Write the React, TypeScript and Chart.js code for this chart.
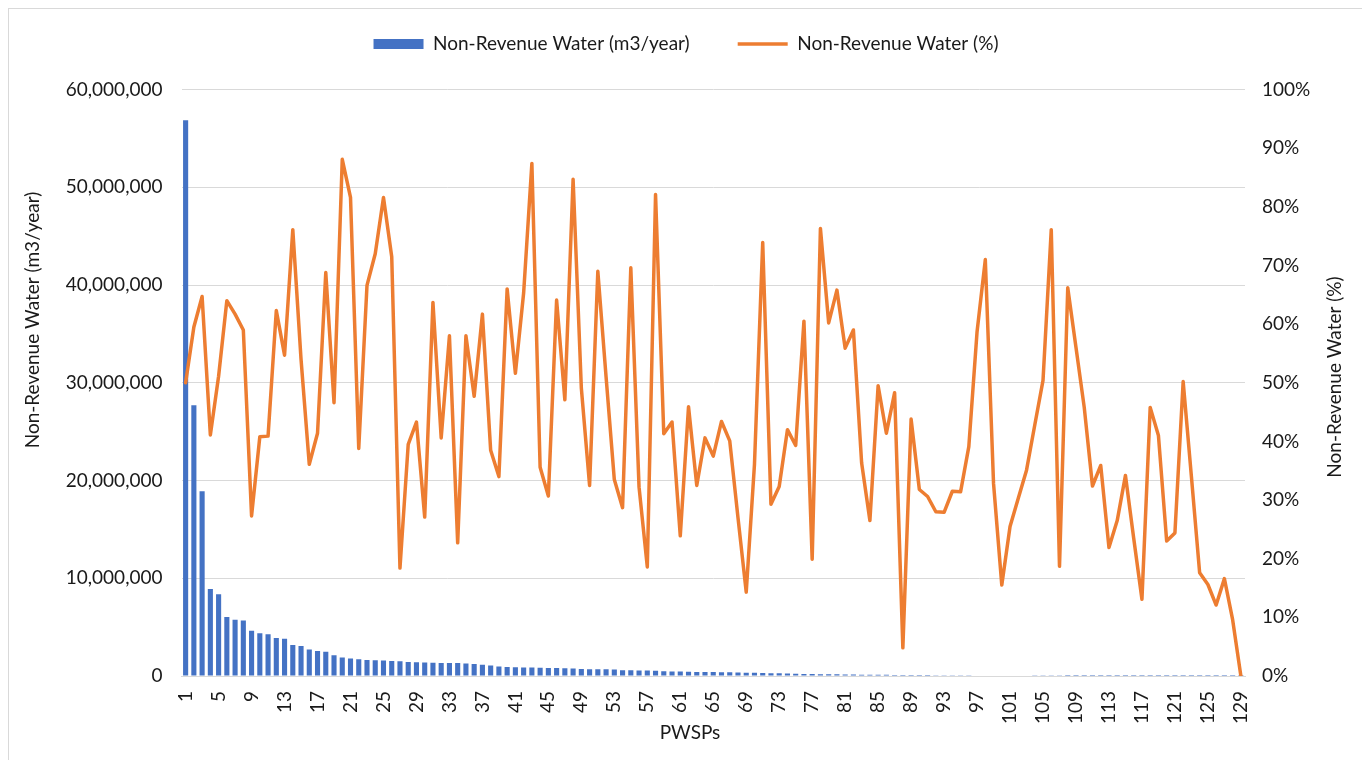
import React, { useEffect, useRef } from 'react';
import { Chart, registerables, layouts } from 'chart.js';

Chart.register(...registerables);

// ---------- data ----------
const categories: string[] = Array.from({ length: 129 }, (_, i) => String(i + 1));

const nrwVolume: number[] = [
  56850000, 27700000, 18900000, 8900000, 8360000, 6030000, 5750000, 5680000, 4620000, 4380000,
  4280000, 3900000, 3800000, 3180000, 3080000, 2700000, 2570000, 2470000, 2120000, 1880000,
  1780000, 1710000, 1640000, 1610000, 1580000, 1540000, 1510000, 1440000, 1400000, 1370000,
  1360000, 1340000, 1330000, 1320000, 1280000, 1230000, 1150000, 1070000, 980000, 920000,
  890000, 880000, 860000, 850000, 820000, 810000, 790000, 770000, 720000, 700000,
  690000, 680000, 660000, 600000, 580000, 560000, 550000, 530000, 490000, 470000,
  450000, 430000, 420000, 410000, 400000, 390000, 380000, 370000, 340000, 320000,
  310000, 290000, 270000, 250000, 230000, 210000, 200000, 190000, 180000, 170000,
  160000, 150000, 140000, 135000, 130000, 120000, 115000, 110000, 100000, 95000,
  90000, 85000, 80000, 75000, 70000, 65000, 60000, 57000, 54000, 50000,
  47000, 44000, 40000, 37000, 34000, 30000, 27000, 4000, 3500, 3200,
  3000, 2800, 2600, 2400, 2200, 2000, 1800, 1600, 1500, 1400,
  1300, 1200, 1100, 1000, 900, 800, 700, 600, 500,
];

const nrwPercent: number[] = [
  50.0, 59.5, 64.7, 41.1, 51.1, 64.0, 61.7, 59.0, 27.3, 40.8,
  40.9, 62.3, 54.7, 76.1, 54.0, 36.1, 41.4, 68.8, 46.6, 88.1,
  81.6, 38.8, 66.6, 72.0, 81.6, 71.5, 18.4, 39.5, 43.3, 27.1,
  63.7, 40.6, 58.0, 22.7, 58.0, 47.7, 61.7, 38.5, 34.0, 66.0,
  51.6, 65.3, 87.4, 35.6, 30.7, 64.1, 47.1, 84.7, 49.1, 32.5,
  69.0, 51.0, 33.5, 28.7, 69.6, 32.2, 18.6, 82.1, 41.3, 43.3,
  23.9, 45.9, 32.5, 40.6, 37.5, 43.4, 40.1, 27.0, 14.3, 36.1,
  73.9, 29.3, 32.3, 42.0, 39.3, 60.5, 19.9, 76.3, 60.2, 65.8,
  55.9, 59.0, 36.3, 26.5, 49.5, 41.4, 48.3, 4.8, 43.8, 31.8,
  30.6, 28.0, 27.9, 31.5, 31.4, 39.1, 58.7, 71.0, 32.8, 15.5,
  25.5, 30.3, 35.1, 42.8, 50.4, 76.1, 18.7, 66.2, 56.0, 45.8,
  32.4, 35.9, 21.9, 26.5, 34.2, 23.5, 13.1, 45.8, 41.0, 23.0,
  24.4, 50.2, 34.0, 17.6, 15.6, 12.1, 16.6, 9.6, 0.0,
];

const seriesNames: string[] = ['Non-Revenue Water (m3/year)', 'Non-Revenue Water (%)'];
const axisTitles = { left: 'Non-Revenue Water (m3/year)', right: 'Non-Revenue Water (%)', x: 'PWSPs' };

// ---------- style ----------
const FONT = 'Lato, "Liberation Sans", sans-serif';
const FS = 19;
const TEXT = '#1a1a1a';
const GRID = '#d9d9d9';
const BLUE = '#4472C4';
const ORANGE = '#ED7D31';

// empty layout box between the legend and the plot area
const spacerPlugin = {
  id: 'topSpacer',
  beforeInit(chart: any) {
    const box: any = {
      position: 'top',
      weight: 500,
      fullSize: true,
      options: { stackWeight: 1 },
      left: 0, top: 0, right: 0, bottom: 0, width: 0, height: 0,
      isHorizontal() { return true; },
      update(maxWidth: number) { box.width = maxWidth; box.height = 26; },
      getPadding() { return { left: 0, right: 0, top: 0, bottom: 0 }; },
      draw() {},
    };
    layouts.addBox(chart, box);
  },
};

const axisTitlePlugin = {
  id: 'axisTitles',
  afterDraw(chart: any) {
    const { ctx } = chart;
    const y = chart.scales.y;
    const y1 = chart.scales.y1;
    const x = chart.scales.x;
    ctx.save();
    ctx.font = `${FS}px ${FONT}`;
    ctx.fillStyle = TEXT;
    ctx.textAlign = 'center';
    ctx.textBaseline = 'middle';
    ctx.save();
    ctx.translate(y.left + 24, 311);
    ctx.rotate(-Math.PI / 2);
    ctx.fillText(axisTitles.left, 0, 0);
    ctx.restore();
    ctx.save();
    ctx.translate(y1.right - 28, 368);
    ctx.rotate(-Math.PI / 2);
    ctx.fillText(axisTitles.right, 0, 0);
    ctx.restore();
    ctx.fillText(axisTitles.x, 681, x.bottom - 27);
    ctx.restore();
  },
};

export default function App() {
  const ref = useRef<HTMLCanvasElement | null>(null);

  useEffect(() => {
    if (!ref.current) return;
    const chart = new Chart(ref.current, {
      type: 'bar',
      data: {
        labels: categories,
        datasets: [
          {
            type: 'bar',
            label: seriesNames[0],
            data: nrwVolume,
            backgroundColor: BLUE,
            borderWidth: 0,
            barPercentage: 0.62,
            categoryPercentage: 1,
            yAxisID: 'y',
            order: 2,
            pointStyle: 'rect',
          } as any,
          {
            type: 'line',
            label: seriesNames[1],
            data: nrwPercent,
            borderColor: ORANGE,
            backgroundColor: ORANGE,
            borderWidth: 3.5,
            pointRadius: 0,
            pointHoverRadius: 0,
            tension: 0,
            borderJoinStyle: 'round',
            borderCapStyle: 'round',
            yAxisID: 'y1',
            order: 1,
            pointStyle: 'line',
          } as any,
        ],
      },
      options: {
        responsive: false,
        animation: false,
        layout: { padding: { top: -22.5, left: 0, right: 0, bottom: 0 } },
        plugins: {
          tooltip: { enabled: false },
          legend: {
            position: 'top',
            labels: {
              usePointStyle: true,
              pointStyleWidth: 50,
              boxHeight: 10,
              padding: 48,
              color: TEXT,
              font: { family: FONT, size: FS },
              sort: (a: any, b: any) => a.datasetIndex - b.datasetIndex,
            },
          } as any,
        },
        scales: {
          x: {
            grid: { display: false },
            border: { display: true, color: GRID, width: 1 },
            ticks: {
              autoSkip: false,
              minRotation: 90,
              maxRotation: 90,
              padding: 7,
              color: TEXT,
              font: { family: FONT, size: FS },
              callback: (_v: any, i: number) => (i % 4 === 0 ? categories[i] : ''),
            },
            title: { display: false, text: axisTitles.x },
            afterFit: (s: any) => { s.height = 84; },
          },
          y: {
            position: 'left',
            min: 0,
            max: 60000000,
            grid: { color: GRID, lineWidth: 1, drawTicks: false },
            border: { display: false },
            ticks: {
              stepSize: 10000000,
              padding: 19,
              color: TEXT,
              font: { family: FONT, size: FS },
              callback: (v: any) => Number(v).toLocaleString('en-US'),
            },
            title: { display: false, text: axisTitles.left },
            afterFit: (s: any) => { s.width = 172.5; },
          },
          y1: {
            position: 'right',
            min: 0,
            max: 100,
            grid: { display: false, drawTicks: false },
            border: { display: false },
            ticks: {
              stepSize: 10,
              padding: 17,
              color: TEXT,
              font: { family: FONT, size: FS },
              callback: (v: any) => `${v}%`,
            },
            title: { display: false, text: axisTitles.right },
            afterFit: (s: any) => { s.width = 118; },
          },
        },
      },
      plugins: [spacerPlugin, axisTitlePlugin],
    } as any);
    return () => chart.destroy();
  }, []);

  return (
    <div
      style={{
        width: 1356,
        height: 752,
        boxSizing: 'border-box',
        borderTop: `1px solid ${GRID}`,
        borderLeft: `1px solid ${GRID}`,
        borderRight: `1px solid ${GRID}`,
        background: '#fff',
        overflow: 'hidden',
      }}
    >
      <canvas ref={ref} width={1354} height={751} style={{ display: 'block' }} />
    </div>
  );
}
